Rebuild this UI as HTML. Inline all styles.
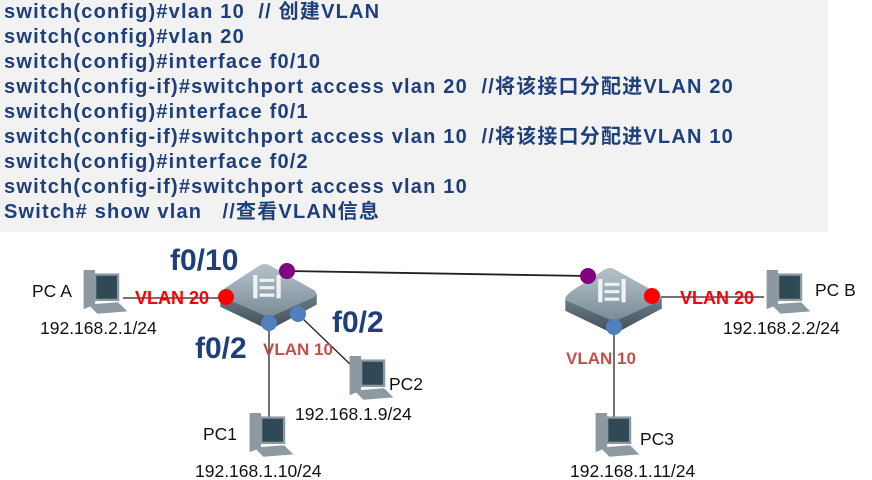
<!DOCTYPE html>
<html><head><meta charset="utf-8"><style>
body{margin:0;width:872px;height:480px;background:#fff;overflow:hidden;position:relative;font-family:"Liberation Sans","Noto Sans CJK SC",sans-serif}
#code{position:absolute;left:0;top:0;width:828px;height:232px;background:#f2f2f2}
#code div{position:absolute;left:4px;height:25px;line-height:25px;font-weight:bold;font-size:20px;letter-spacing:1.2px;color:#1f3f7a;white-space:pre;font-family:"Liberation Sans","Noto Sans CJK SC",sans-serif}
svg{position:absolute;left:0;top:0}
</style></head><body>
<div id="code">
<div style="top:0px">switch(config)#vlan 10  // 创建VLAN</div>
<div style="top:25px">switch(config)#vlan 20</div>
<div style="top:50px">switch(config)#interface f0/10</div>
<div style="top:75px">switch(config-if)#switchport access vlan 20  //将该接口分配进VLAN 20</div>
<div style="top:100px">switch(config)#interface f0/1</div>
<div style="top:125px">switch(config-if)#switchport access vlan 10  //将该接口分配进VLAN 10</div>
<div style="top:150px">switch(config)#interface f0/2</div>
<div style="top:175px">switch(config-if)#switchport access vlan 10</div>
<div style="top:200px">Switch# show vlan   //查看VLAN信息</div>
</div>
<svg width="872" height="480" viewBox="0 0 872 480" font-family="Liberation Sans, sans-serif">
<defs>
<linearGradient id="top" x1="0" y1="0" x2="0" y2="1"><stop offset="0" stop-color="#b5c2ca"/><stop offset="1" stop-color="#7b8c97"/></linearGradient>
<linearGradient id="side" x1="0" y1="0" x2="0" y2="1"><stop offset="0" stop-color="#6d7d88"/><stop offset="1" stop-color="#3f4c55"/></linearGradient>
<g id="sw">
<path d="M-45,3 L-45,13 L1,35 L46,11 L46,1 Z" fill="url(#side)"/>
<path d="M-45,3 Q-46,0 -40,-5 L-8,-26 Q-4,-28 0,-27 L43,-3 Q48,0 43,4 L6,21 Q1,23 -4,21 Z" fill="url(#top)"/>
<rect x="-14" y="-17" width="4" height="22" fill="#eef2f4"/><rect x="8" y="-17" width="4" height="22" fill="#eef2f4"/>
<path d="M-8,-12 H6 M-8,-5 H6 M-8,2 H6" stroke="#eef2f4" stroke-width="3"/>
</g>
<g id="pc">
<path d="M4,0 L14,0 L14,30 L4,34 Z" fill="#8c99a1"/>
<rect x="14" y="4" width="20" height="22" fill="#2f4a55" stroke="#8c99a1" stroke-width="2"/>
<path d="M8,30 L34,28 L42,36 L16,38 Z" fill="#8d9aa2"/>
</g>
</defs>
<g stroke="#222" stroke-width="1.3">
<line x1="287" y1="271" x2="588" y2="276" stroke-width="1.8"/>
<line x1="123" y1="298" x2="225" y2="298"/>
<line x1="269" y1="323" x2="269" y2="418"/>
<line x1="300" y1="316" x2="352" y2="366"/>
<line x1="652" y1="297" x2="764" y2="297"/>
<line x1="614" y1="327" x2="614" y2="418"/>
</g>
<g transform="translate(268,293) scale(1.06)"><use href="#sw"/></g>
<g transform="translate(613,297) scale(1.06)"><use href="#sw"/></g>
<circle cx="226" cy="297" r="8" fill="#f00"/>
<circle cx="287" cy="271" r="8" fill="#800080"/>
<circle cx="269" cy="323" r="8" fill="#4f81bd"/>
<circle cx="298" cy="314" r="8" fill="#4f81bd"/>
<circle cx="588" cy="276" r="8" fill="#800080"/>
<circle cx="652" cy="296" r="8" fill="#f00"/>
<circle cx="614" cy="327" r="8" fill="#4f81bd"/>
<g transform="translate(79,270) scale(1.15)"><use href="#pc"/></g>
<g transform="translate(762,270) scale(1.15)"><use href="#pc"/></g>
<g transform="translate(345,356) scale(1.15)"><use href="#pc"/></g>
<g transform="translate(245,413) scale(1.15)"><use href="#pc"/></g>
<g transform="translate(591,413) scale(1.15)"><use href="#pc"/></g>
<g font-weight="bold" fill="#f00" font-size="18"><text x="135" y="304">VLAN 20</text><text x="680" y="304">VLAN 20</text></g>
<g font-weight="bold" fill="#c0504d" font-size="17"><text x="263" y="355">VLAN 10</text><text x="566" y="364">VLAN 10</text></g>
<g font-weight="bold" fill="#1f3f7a" font-size="30"><text x="170" y="270">f0/10</text><text x="195" y="358">f0/2</text><text x="332" y="332">f0/2</text></g>
<g font-size="17.5" fill="#111">
<text x="32" y="297">PC A</text><text x="40" y="334">192.168.2.1/24</text>
<text x="389" y="390">PC2</text><text x="295" y="420">192.168.1.9/24</text>
<text x="203" y="440">PC1</text><text x="195" y="477">192.168.1.10/24</text>
<text x="815" y="296">PC B</text><text x="723" y="334">192.168.2.2/24</text>
<text x="640" y="445">PC3</text><text x="570" y="477">192.168.1.11/24</text>
</g>
</svg>
</body></html>
